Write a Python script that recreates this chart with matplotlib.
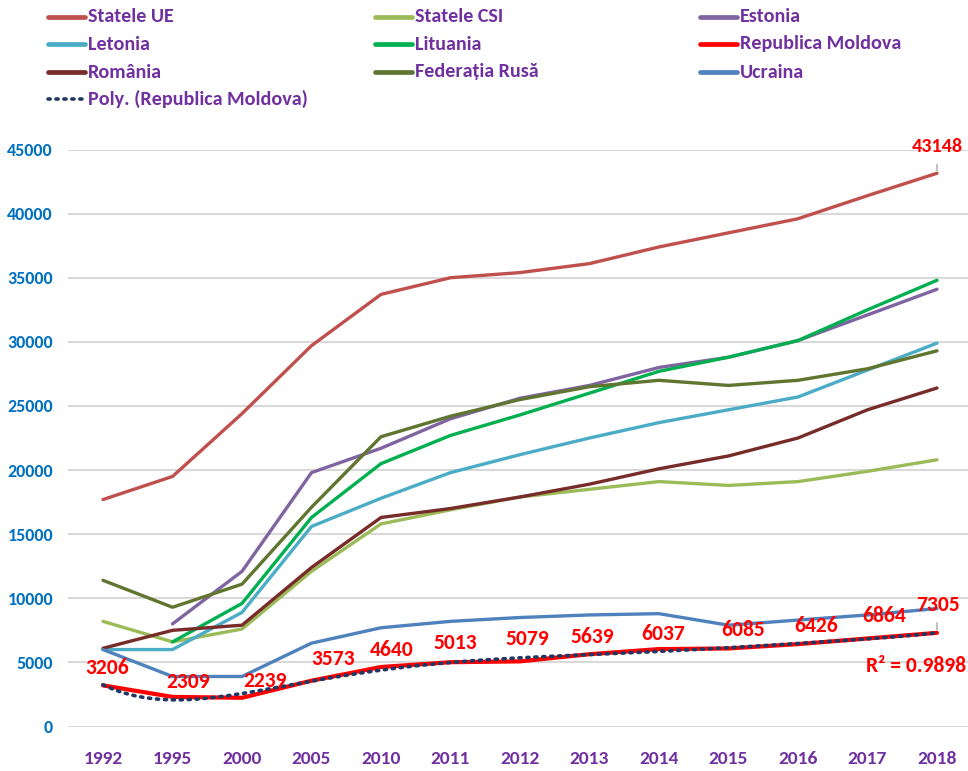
import numpy as np
import matplotlib
matplotlib.use('Agg')
import matplotlib.pyplot as plt
from matplotlib.lines import Line2D

plt.rcParams['font.family'] = ['Carlito', 'DejaVu Sans']

# data
years = ['1992', '1995', '2000', '2005', '2010', '2011', '2012', '2013', '2014', '2015', '2016', '2017', '2018']
ue = [17700, 19500, 24400, 29700, 33700, 35000, 35400, 36100, 37400, 38500, 39600, 41400, 43148]
csi = [8200, 6600, 7600, 12100, 15800, 16900, 17900, 18500, 19100, 18800, 19100, 19900, 20800]
estonia = [np.nan, 8000, 12100, 19800, 21700, 24000, 25600, 26600, 28000, 28800, 30100, 32100, 34100]
letonia = [6000, 6000, 8900, 15600, 17800, 19800, 21200, 22500, 23700, 24700, 25700, 27800, 29900]
lituania = [np.nan, 6600, 9600, 16300, 20500, 22700, 24300, 26000, 27700, 28800, 30100, 32500, 34800]
moldova = [3206, 2309, 2239, 3573, 4640, 5013, 5079, 5639, 6037, 6085, 6426, 6864, 7305]
romania = [6100, 7500, 7900, 12400, 16300, 17000, 17900, 18900, 20100, 21100, 22500, 24700, 26400]
rusa = [11400, 9300, 11100, 17100, 22600, 24200, 25500, 26500, 27000, 26600, 27000, 27900, 29300]
ucraina = [6000, 3900, 3900, 6500, 7700, 8200, 8500, 8700, 8800, 7900, 8300, 8700, 9200]

names = ['Statele UE', 'Statele CSI', 'Estonia', 'Letonia', 'Lituania',
         'Republica Moldova', 'România', 'Federația Rusă', 'Ucraina']
series = [ue, csi, estonia, letonia, lituania, moldova, romania, rusa, ucraina]
colors = ['#C0504D', '#9BBB59', '#8064A2', '#4BACC6', '#00B050',
          '#FF0000', '#772C2A', '#5F7530', '#4F81BD']
trend_name = 'Poly. (Republica Moldova)'
r2_text = 'R² = 0.9898'

W, H = 968, 771
fig = plt.figure(figsize=(W / 100, H / 100), dpi=100)
ax = fig.add_axes([68.25 / W, 44.5 / H, 903.5 / W, 577 / H])

x = np.arange(len(years))
for s, c in zip(series, colors):
    lw = 3.0 if c == '#FF0000' else 2.4
    ax.plot(x, s, color=c, lw=lw, solid_capstyle='round', zorder=3)

# polynomial trend line for Moldova (6th order, Excel style x = 1..13)
xm = x + 1
coef = np.polyfit(xm, moldova, 6)
xs = np.linspace(xm[0], xm[-1], 300)
ax.plot(xs - 1, np.polyval(coef, xs), color='#1F3864', lw=2.6, ls=(0, (0.6, 1.6)),
        dash_capstyle='round', zorder=4)

# data labels for Moldova
offs = [(4, 17), (16, 15), (23, 17), (22, 22), (11, 17), (5, 19), (7, 22),
        (3, 17), (4, 15), (15, 18), (18, 18), (17, 22), (1, 28)]
for i, v in enumerate(moldova):
    dx, dy = offs[i]
    ax.annotate(str(v), (x[i], v), xytext=(dx * 0.72, dy * 0.72), textcoords='offset points',
                ha='center', va='center', color='#FF0000', fontsize=15.5, fontweight='bold', zorder=5)
ax.annotate('', (x[-1], moldova[-1]), xytext=(x[-1], moldova[-1] + 1000),
            arrowprops=dict(arrowstyle='-', color='#A6A6A6', lw=1))
ax.annotate(str(ue[-1]), (x[-1], ue[-1]), xytext=(0, 27 * 0.72), textcoords='offset points',
            ha='center', va='center', color='#FF0000', fontsize=14.5, fontweight='bold')
ax.annotate('', (x[-1], ue[-1]), xytext=(x[-1], ue[-1] + 900),
            arrowprops=dict(arrowstyle='-', color='#A6A6A6', lw=1))
ax.text(x[-1] - 0.3, 4750, r2_text, ha='center', va='center', color='#FF0000',
        fontsize=15.5, fontweight='bold')

ax.set_xlim(-0.5, len(years) - 0.5)
ax.set_ylim(0, 45000)
ax.set_yticks(np.arange(0, 45001, 5000))
ax.set_xticks(x)
ax.set_xticklabels(years)
ax.grid(axis='y', color='#D9D9D9', lw=1.5)
ax.set_axisbelow(True)
for sp in ax.spines.values():
    sp.set_visible(False)
ax.tick_params(length=0)
ax.tick_params(axis='y', pad=11, labelsize=13, labelcolor='#0070C0')
ax.tick_params(axis='x', pad=18, labelsize=14, labelcolor='#7030A0')
for t in ax.get_xticklabels() + ax.get_yticklabels():
    t.set_fontweight('bold')

# legend laid out like the original (3 columns, row-major)
col_x = [48, 375, 700]
row_y = [17, 44, 72, 99]
for k, (n, c) in enumerate(zip(names, colors)):
    r, cc = divmod(k, 3)
    x0 = col_x[cc]
    yy = 1 - row_y[r] / H
    fig.add_artist(Line2D([x0 / W, (x0 + 37) / W], [yy, yy], color=c, lw=3.4,
                          solid_capstyle='round', transform=fig.transFigure))
    fig.text((x0 + 40) / W, yy, n, color='#7030A0', fontsize=14.5, fontweight='bold',
             va='center', ha='left')
yy = 1 - row_y[3] / H
fig.add_artist(Line2D([48 / W, 85 / W], [yy, yy], color='#1F3864', lw=2.6, ls=(0, (0.6, 1.6)),
                      dash_capstyle='round', transform=fig.transFigure))
fig.text(88 / W, yy, trend_name, color='#7030A0', fontsize=14.5, fontweight='bold',
         va='center', ha='left')

fig.savefig('out.png', dpi=100)
